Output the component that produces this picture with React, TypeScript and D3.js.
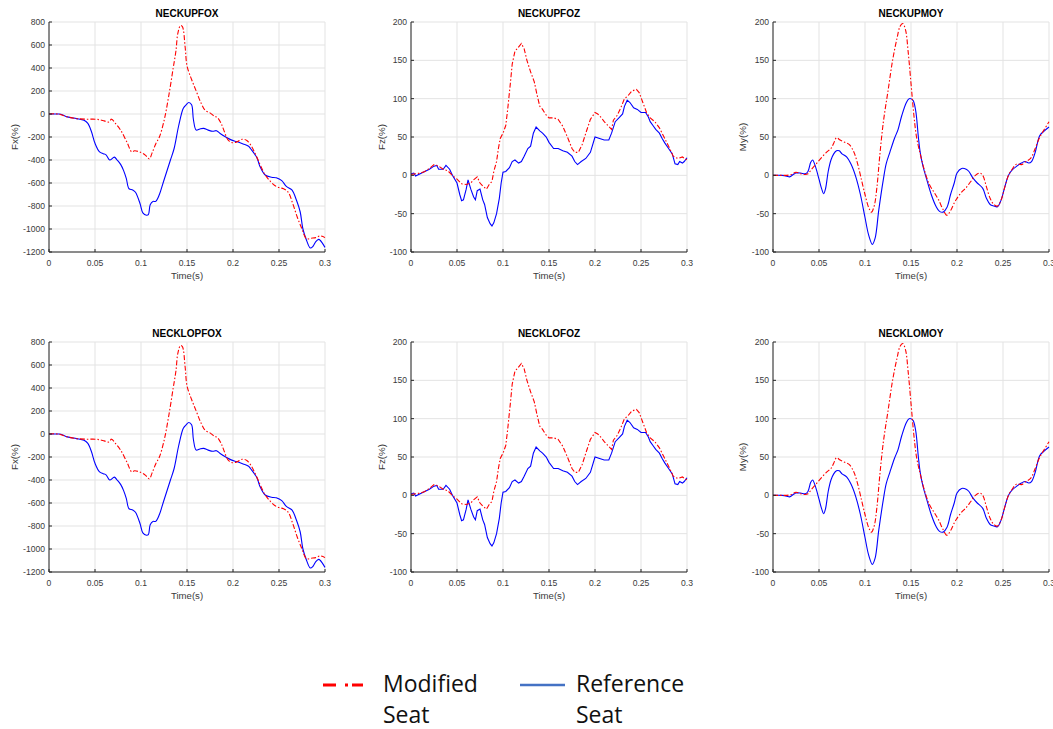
import React from 'react';
import * as d3 from 'd3';

// ---------- DATA ----------
const timeTicks = [0, 0.05, 0.1, 0.15, 0.2, 0.25, 0.3];
const fxTicks = [-1200, -1000, -800, -600, -400, -200, 0, 200, 400, 600, 800];
const fzTicks = [-100, -50, 0, 50, 100, 150, 200];
const myTicks = [-100, -50, 0, 50, 100, 150, 200];

const panelTitles = ['NECKUPFOX', 'NECKUPFOZ', 'NECKUPMOY', 'NECKLOPFOX', 'NECKLOFOZ', 'NECKLOMOY'];
const panelYLabels = ['Fx(%)', 'Fz(%)', 'My(%)', 'Fx(%)', 'Fz(%)', 'My(%)'];
const legendLabels = [['Modified', 'Seat'], ['Reference', 'Seat']];

// Fx – reference seat (blue)
const fxReference: [number, number][] = [
  [0, 0], [0.010, 0], [0.013, -2], [0.020, -25], [0.030, -40], [0.038, -55], [0.042, -80], [0.046, -150],
  [0.050, -255], [0.055, -330], [0.059, -345], [0.062, -355], [0.066, -400], [0.071, -375], [0.074, -400],
  [0.078, -440], [0.081, -490], [0.084, -560], [0.087, -650], [0.091, -660], [0.094, -680], [0.099, -780],
  [0.102, -860], [0.106, -880], [0.108, -875], [0.110, -790], [0.113, -760], [0.116, -760], [0.120, -700],
  [0.124, -600], [0.128, -500], [0.132, -400], [0.136, -300], [0.141, -100], [0.146, 50], [0.149, 80],
  [0.152, 100], [0.155, 80], [0.157, -50], [0.160, -140], [0.164, -130], [0.168, -125], [0.173, -140],
  [0.178, -150], [0.182, -145], [0.186, -170], [0.193, -205], [0.198, -225], [0.204, -240], [0.211, -260],
  [0.217, -280], [0.219, -300], [0.226, -380], [0.229, -450], [0.235, -530], [0.242, -550], [0.247, -555],
  [0.253, -580], [0.258, -630], [0.264, -660], [0.269, -750], [0.273, -850], [0.276, -1000], [0.280, -1100],
  [0.284, -1165], [0.287, -1150], [0.290, -1110], [0.293, -1090], [0.295, -1100], [0.300, -1160],
];

// Fx – modified seat (red)
const fxModified: [number, number][] = [
  [0, 0], [0.010, 0], [0.020, -25], [0.030, -40], [0.040, -45], [0.050, -45], [0.055, -50], [0.060, -60],
  [0.065, -70], [0.068, -45], [0.072, -80], [0.077, -130], [0.080, -170], [0.085, -250], [0.090, -330],
  [0.093, -320], [0.100, -335], [0.105, -360], [0.109, -390], [0.112, -340], [0.116, -260], [0.120, -200],
  [0.125, -60], [0.130, 150], [0.135, 400], [0.138, 550], [0.140, 700], [0.143, 770], [0.145, 760],
  [0.148, 580], [0.150, 420], [0.155, 300], [0.160, 200], [0.165, 100], [0.170, 30], [0.175, 10],
  [0.180, -20], [0.183, -30], [0.187, -80], [0.190, -140], [0.195, -230], [0.200, -250], [0.205, -240],
  [0.210, -220], [0.215, -230], [0.220, -280], [0.225, -360], [0.230, -450], [0.235, -530], [0.240, -580],
  [0.245, -620], [0.250, -640], [0.255, -650], [0.260, -680], [0.265, -780], [0.270, -900], [0.275, -1000],
  [0.280, -1085], [0.285, -1080], [0.290, -1075], [0.295, -1060], [0.300, -1075],
];

// Fz – reference seat (blue)
const fzReference: [number, number][] = [
  [0, 2], [0.003, 3], [0.005, -1], [0.010, 2], [0.015, 5], [0.020, 8], [0.025, 12], [0.028, 13], [0.030, 8],
  [0.035, 8], [0.038, 13], [0.042, 8], [0.045, 0], [0.050, -10], [0.053, -25], [0.055, -33], [0.057, -32],
  [0.060, -18], [0.062, -6], [0.065, -18], [0.068, -28], [0.070, -32], [0.072, -20], [0.075, -18],
  [0.078, -32], [0.080, -38], [0.083, -55], [0.086, -63], [0.088, -66], [0.090, -62], [0.093, -50],
  [0.096, -30], [0.098, -10], [0.100, 4], [0.103, 5], [0.107, 10], [0.110, 18], [0.113, 20], [0.117, 16],
  [0.120, 18], [0.123, 25], [0.127, 35], [0.130, 38], [0.133, 55], [0.136, 63], [0.140, 58], [0.143, 55],
  [0.147, 50], [0.150, 43], [0.155, 35], [0.160, 35], [0.165, 32], [0.170, 30], [0.175, 25], [0.178, 18],
  [0.181, 14], [0.185, 18], [0.190, 22], [0.195, 30], [0.200, 50], [0.205, 48], [0.210, 46], [0.215, 46],
  [0.218, 55], [0.222, 70], [0.226, 75], [0.230, 80], [0.232, 90], [0.235, 98], [0.238, 95], [0.242, 88],
  [0.246, 86], [0.250, 82], [0.255, 82], [0.258, 76], [0.260, 70], [0.263, 65], [0.266, 60], [0.270, 55],
  [0.273, 48], [0.276, 42], [0.280, 35], [0.284, 28], [0.287, 15], [0.290, 14], [0.292, 18], [0.295, 16],
  [0.297, 18], [0.300, 23],
];

// Fz – modified seat (red)
const fzModified: [number, number][] = [
  [0, 1], [0.005, 2], [0.010, 3], [0.015, 5], [0.020, 9], [0.025, 14], [0.030, 12], [0.035, 8], [0.040, 6],
  [0.045, 0], [0.050, -5], [0.055, -11], [0.060, -12], [0.065, -10], [0.068, -6], [0.072, -2], [0.075, -10],
  [0.078, -14], [0.082, -18], [0.085, -12], [0.088, -8], [0.090, 5], [0.093, 18], [0.095, 35], [0.097, 48],
  [0.100, 55], [0.103, 65], [0.105, 85], [0.108, 120], [0.110, 145], [0.113, 162], [0.116, 166],
  [0.120, 172], [0.123, 165], [0.126, 150], [0.130, 135], [0.134, 122], [0.137, 105], [0.140, 90],
  [0.143, 86], [0.146, 80], [0.150, 75], [0.155, 75], [0.160, 73], [0.165, 64], [0.170, 50], [0.175, 35],
  [0.178, 30], [0.182, 30], [0.186, 40], [0.190, 55], [0.195, 73], [0.200, 82], [0.203, 80], [0.207, 75],
  [0.210, 70], [0.214, 65], [0.218, 60], [0.220, 72], [0.224, 78], [0.228, 88], [0.232, 100], [0.236, 104],
  [0.240, 110], [0.245, 112], [0.248, 108], [0.252, 95], [0.256, 82], [0.260, 75], [0.265, 70], [0.270, 62],
  [0.275, 50], [0.280, 38], [0.285, 25], [0.290, 22], [0.295, 24], [0.300, 20],
];

// My – reference seat (blue)
const myReference: [number, number][] = [
  [0, 0], [0.010, 0], [0.015, -1], [0.018, -2], [0.022, 1], [0.025, 3], [0.030, 3], [0.035, 2], [0.038, 5],
  [0.041, 17], [0.043, 20], [0.046, 12], [0.050, -5], [0.053, -18], [0.055, -24], [0.057, -18], [0.060, 5],
  [0.063, 20], [0.066, 28], [0.069, 32], [0.072, 32], [0.075, 28], [0.080, 24], [0.085, 14], [0.090, -2],
  [0.095, -25], [0.100, -55], [0.104, -78], [0.108, -90], [0.111, -82], [0.115, -45], [0.120, -5],
  [0.123, 15], [0.127, 30], [0.132, 48], [0.136, 60], [0.140, 78], [0.145, 95], [0.148, 100], [0.152, 98],
  [0.155, 85], [0.158, 50], [0.160, 30], [0.163, 12], [0.167, -5], [0.172, -25], [0.177, -40], [0.181, -47],
  [0.185, -48], [0.189, -42], [0.193, -25], [0.197, -10], [0.200, 3], [0.205, 9], [0.210, 8], [0.213, 5],
  [0.217, -3], [0.222, -10], [0.228, -17], [0.232, -30], [0.236, -38], [0.240, -40], [0.244, -41],
  [0.248, -32], [0.252, -15], [0.256, 0], [0.260, 7], [0.265, 12], [0.270, 16], [0.274, 18], [0.278, 16],
  [0.281, 18], [0.285, 30], [0.290, 52], [0.295, 58], [0.300, 63],
];

// My – modified seat (red)
const myModified: [number, number][] = [
  [0, 0], [0.010, 0], [0.015, 0], [0.020, 1], [0.025, 4], [0.030, 2], [0.035, 1], [0.038, 2], [0.042, 8],
  [0.047, 15], [0.052, 22], [0.058, 30], [0.063, 35], [0.066, 42], [0.069, 49], [0.073, 46], [0.078, 43],
  [0.083, 40], [0.088, 30], [0.092, 15], [0.096, -5], [0.100, -25], [0.104, -42], [0.107, -48], [0.110, -40],
  [0.113, -15], [0.116, 25], [0.120, 70], [0.125, 110], [0.130, 150], [0.135, 180], [0.138, 194],
  [0.141, 198], [0.144, 190], [0.147, 160], [0.150, 120], [0.153, 80], [0.156, 50], [0.160, 28],
  [0.165, 5], [0.170, -12], [0.175, -22], [0.180, -32], [0.185, -45], [0.189, -52], [0.193, -46],
  [0.197, -36], [0.200, -30], [0.205, -22], [0.210, -16], [0.215, -8], [0.220, 0], [0.225, 3], [0.228, 0],
  [0.232, -15], [0.236, -30], [0.240, -38], [0.244, -40], [0.248, -32], [0.252, -15], [0.256, 0],
  [0.260, 8], [0.265, 15], [0.270, 14], [0.275, 18], [0.280, 22], [0.285, 35], [0.290, 50], [0.295, 60],
  [0.300, 70],
];

// ---------- LAYOUT ----------
const W = 1053;
const H = 729;
const colLeft = [49, 411, 773];
const rowTop = [22, 342];
const plotW = 276;
const plotH = 230;
const yLabelOffset = [34, 29, 30];
const font = '"Liberation Sans", Arial, Helvetica, sans-serif';

const fmtTime = (t: number) => (t === 0 ? '0' : String(+t.toFixed(2)));

type PanelProps = {
  idx: number;
  left: number;
  top: number;
  title: string;
  yLabel: string;
  yTicks: number[];
  modified: [number, number][];
  reference: [number, number][];
  smooth: boolean;
  labelOff: number;
};

function Panel({ idx, left, top, title, yLabel, yTicks, modified, reference, smooth, labelOff }: PanelProps) {
  const x = d3.scaleLinear().domain([0, 0.3]).range([left, left + plotW]);
  const y = d3
    .scaleLinear()
    .domain([yTicks[0], yTicks[yTicks.length - 1]])
    .range([top + plotH, top]);
  const line = d3
    .line<[number, number]>()
    .x((d) => x(d[0]))
    .y((d) => y(d[1]))
    .curve(smooth ? d3.curveCatmullRom.alpha(0.5) : d3.curveLinear);
  const clipId = `clip-${idx}`;
  const axisColor = '#262626';
  const gridColor = '#e3e3e3';
  return (
    <g>
      <defs>
        <clipPath id={clipId}>
          <rect x={left} y={top - 1} width={plotW + 1} height={plotH + 2} />
        </clipPath>
      </defs>
      {/* grid */}
      {timeTicks.map((t) => (
        <line key={'gx' + t} x1={x(t)} x2={x(t)} y1={top} y2={top + plotH} stroke={gridColor} strokeWidth={1} />
      ))}
      {yTicks.map((v) => (
        <line key={'gy' + v} x1={left} x2={left + plotW} y1={y(v)} y2={y(v)} stroke={gridColor} strokeWidth={1} />
      ))}
      {/* data */}
      <g clipPath={`url(#${clipId})`}>
        <path d={line(reference) || ''} fill="none" stroke="#0000ff" strokeWidth={1.1} />
        <path d={line(modified) || ''} fill="none" stroke="#ff0000" strokeWidth={1.1} strokeDasharray="5,2,1.5,2" />
      </g>
      {/* axes */}
      <line x1={left} x2={left} y1={top} y2={top + plotH} stroke={axisColor} strokeWidth={1} />
      <line x1={left} x2={left + plotW} y1={top + plotH} y2={top + plotH} stroke={axisColor} strokeWidth={1} />
      {timeTicks.map((t) => (
        <g key={'tx' + t}>
          <line x1={x(t)} x2={x(t)} y1={top + plotH} y2={top + plotH - 3} stroke={axisColor} />
          <text x={x(t)} y={top + plotH + 14} fontSize={8.6} fill="#3a3a3a" textAnchor="middle" fontFamily={font}>
            {fmtTime(t)}
          </text>
        </g>
      ))}
      {yTicks.map((v) => (
        <g key={'ty' + v}>
          <line x1={left} x2={left + 3} y1={y(v)} y2={y(v)} stroke={axisColor} />
          <text x={left - 4} y={y(v)} dy="0.35em" fontSize={8.6} fill="#3a3a3a" textAnchor="end" fontFamily={font}>
            {v}
          </text>
        </g>
      ))}
      <text x={left + plotW / 2} y={top + plotH + 27} fontSize={9.6} fill="#3a3a3a" textAnchor="middle" fontFamily={font}>
        Time(s)
      </text>
      <text
        transform={`translate(${left - labelOff},${top + plotH / 2}) rotate(-90)`}
        dy="0.35em"
        fontSize={9.8}
        fill="#3a3a3a"
        textAnchor="middle"
        fontFamily={font}
      >
        {yLabel}
      </text>
      <text x={left + plotW / 2} y={top - 5} fontSize={10} fontWeight="bold" fill="#000" textAnchor="middle" fontFamily={font}>
        {title}
      </text>
    </g>
  );
}

export default function App() {
  const series = [
    { ticks: fxTicks, mod: fxModified, ref: fxReference, smooth: true },
    { ticks: fzTicks, mod: fzModified, ref: fzReference, smooth: false },
    { ticks: myTicks, mod: myModified, ref: myReference, smooth: true },
  ];
  const legendFont = '"Open Sans", "Noto Sans", sans-serif';
  return (
    <svg width={W} height={H} style={{ position: 'absolute', left: 0, top: 0, background: '#fff' }}>
      <rect x={0} y={0} width={W} height={H} fill="#fff" />
      {rowTop.map((top, r) =>
        colLeft.map((left, c) => {
          const i = r * 3 + c;
          const s = series[c];
          return (
            <Panel
              key={i}
              idx={i}
              left={left}
              top={top}
              title={panelTitles[i]}
              yLabel={panelYLabels[i]}
              yTicks={s.ticks}
              modified={s.mod}
              reference={s.ref}
              smooth={s.smooth}
              labelOff={yLabelOffset[c]}
            />
          );
        })
      )}
      {/* legend */}
      <line x1={323} x2={363} y1={685} y2={685} stroke="#ff0000" strokeWidth={2.8} strokeDasharray="13,9,3,4,14,10" />
      <text x={383} y={692} fontSize={23} fontFamily={legendFont} fill="#111">
        {legendLabels[0][0]}
      </text>
      <text x={383} y={723} fontSize={23} fontFamily={legendFont} fill="#111">
        {legendLabels[0][1]}
      </text>
      <line x1={520} x2={565} y1={685} y2={685} stroke="#4472c4" strokeWidth={2.6} />
      <text x={576} y={692} fontSize={23} fontFamily={legendFont} fill="#111">
        {legendLabels[1][0]}
      </text>
      <text x={576} y={723} fontSize={23} fontFamily={legendFont} fill="#111">
        {legendLabels[1][1]}
      </text>
    </svg>
  );
}
